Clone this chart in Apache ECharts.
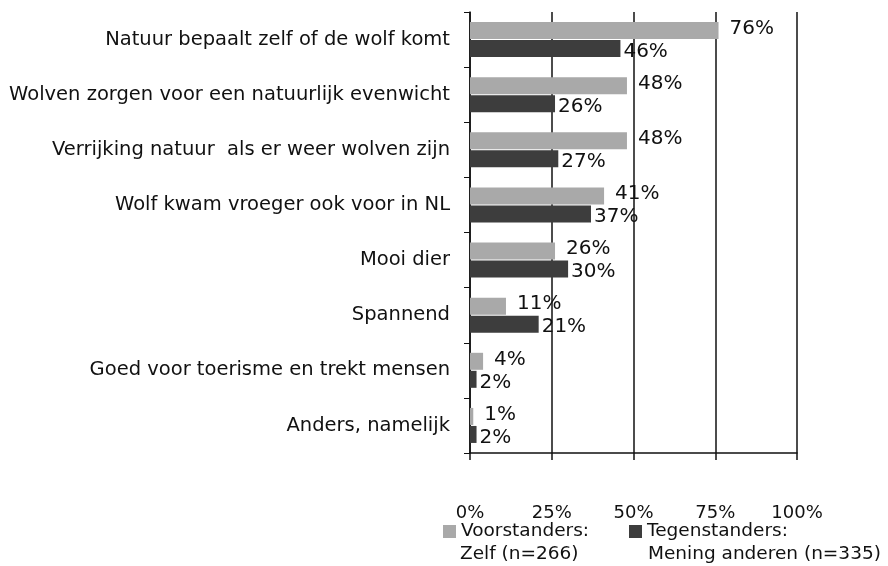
<!DOCTYPE html>
<html>
<head>
<meta charset="utf-8">
<script src="https://cdn.jsdelivr.net/npm/echarts@6/dist/echarts.min.js"></script>
<style>
  html, body { margin: 0; padding: 0; background: #fff; }
  #chart { width: 888px; height: 566px; }
</style>
</head>
<body>
<div id="chart"></div>
<script>
// categorieen (van boven naar onder)
var categories = [
  'Natuur bepaalt zelf of de wolf komt',
  'Wolven zorgen voor een natuurlijk evenwicht',
  'Verrijking natuur  als er weer wolven zijn',
  'Wolf kwam vroeger ook voor in NL',
  'Mooi dier',
  'Spannend',
  'Goed voor toerisme en trekt mensen',
  'Anders, namelijk'
];
var voorstanders = [76, 48, 48, 41, 26, 11, 4, 1];
var tegenstanders = [46, 26, 27, 37, 30, 21, 2, 2];
var xTicks = [0, 25, 50, 75, 100];
var seriesNames = ['Voorstanders:', 'Tegenstanders:'];
var seriesSub = ['Zelf (n=266)', 'Mening anderen (n=335)'];

var chart = echarts.init(document.getElementById('chart'));
var font = 'DejaVu Sans, Verdana, sans-serif';

var legendText = { fontFamily: font, fontSize: 18.5, color: '#111' };

chart.setOption({
  animation: false,
  backgroundColor: '#fff',
  textStyle: { fontFamily: font, color: '#111' },
  grid: { left: 470, right: 91, top: 12, bottom: 113, containLabel: false },
  legend: [
    {
      left: 438, top: 517, itemWidth: 13, itemHeight: 13, itemGap: 4, icon: 'rect',
      textStyle: legendText, data: [seriesNames[0]]
    },
    {
      left: 624, top: 517, itemWidth: 13, itemHeight: 13, itemGap: 4, icon: 'rect',
      textStyle: legendText, data: [seriesNames[1]]
    }
  ],
  graphic: [
    { type: 'text', left: 460, top: 545, style: { text: seriesSub[0], font: '18.5px ' + font, fill: '#111' } },
    { type: 'text', left: 648, top: 545, style: { text: seriesSub[1], font: '18.5px ' + font, fill: '#111' } }
  ],
  xAxis: {
    type: 'value',
    min: 0,
    max: 100,
    interval: 25,
    axisLine: { show: true, lineStyle: { color: '#111', width: 1.5 } },
    axisTick: { show: true, length: 7, inside: false, lineStyle: { color: '#111', width: 1.5 } },
    splitLine: { show: true, lineStyle: { color: '#111', width: 1.5 } },
    axisLabel: {
      margin: 51,
      fontSize: 18,
      color: '#111',
      formatter: function (v) { return xTicks.indexOf(v) >= 0 ? v + '%' : ''; }
    }
  },
  yAxis: {
    type: 'category',
    inverse: true,
    data: categories,
    axisLine: { show: true, lineStyle: { color: '#111', width: 1.5 } },
    axisTick: { show: true, length: 6, lineStyle: { color: '#111', width: 1 } },
    axisLabel: { fontSize: 19.5, color: '#111', margin: 20 }
  },
  series: [
    {
      name: seriesNames[0],
      type: 'bar',
      data: voorstanders,
      barWidth: 17,
      barGap: '6%',
      itemStyle: { color: '#a9a9a9' },
      label: {
        show: true, position: 'right', distance: 11,
        formatter: '{c}%', fontSize: 20, color: '#111', fontFamily: font,
        offset: [0, -2]
      }
    },
    {
      name: seriesNames[1],
      type: 'bar',
      data: tegenstanders,
      barWidth: 17,
      itemStyle: { color: '#3d3d3d' },
      label: {
        show: true, position: 'right', distance: 3,
        formatter: '{c}%', fontSize: 20, color: '#111', fontFamily: font,
        offset: [0, 3]
      }
    }
  ]
});
</script>
</body>
</html>
